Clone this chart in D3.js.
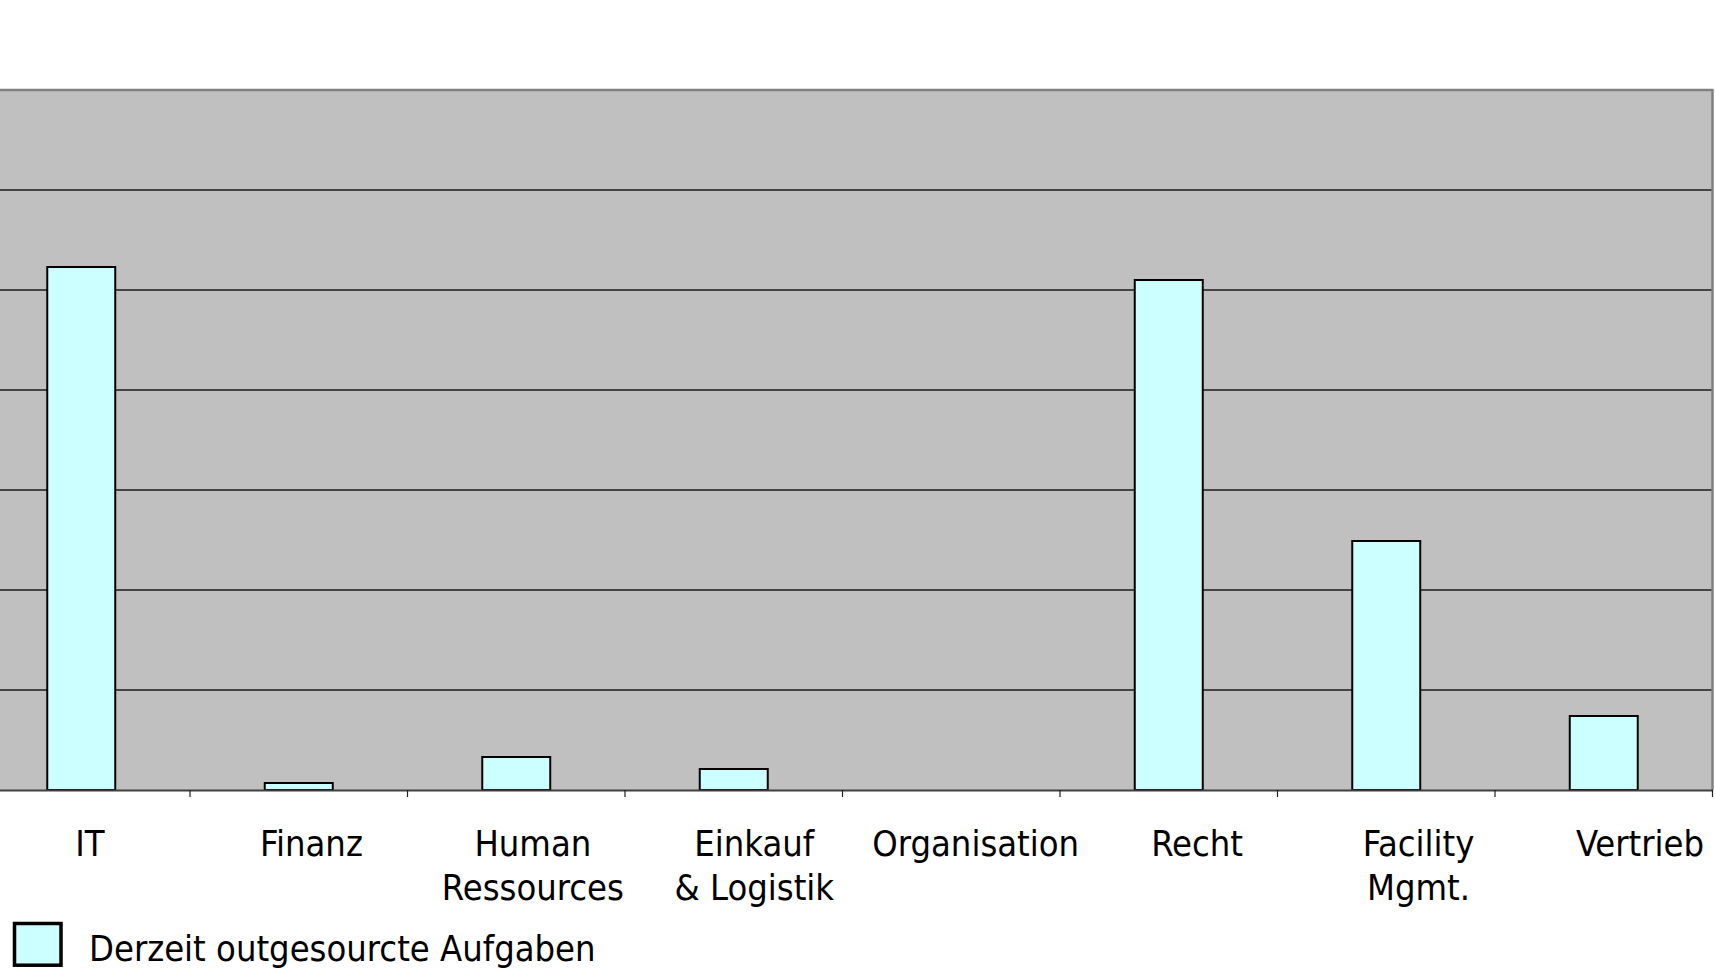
<!DOCTYPE html>
<html>
<head>
<meta charset="utf-8">
<script src="https://cdn.jsdelivr.net/npm/d3@7"></script>
<style>
  html, body { margin: 0; padding: 0; background: #ffffff; overflow: hidden; }
  svg { display: block; }
  text { font-family: "DejaVu Sans Condensed", "DejaVu Sans", sans-serif; fill: #000; }
</style>
</head>
<body>
<svg id="chart" width="1715" height="968"></svg>
<script>
// ---- data ----
const categories = ["IT", "Finanz", "Human Ressources", "Einkauf & Logistik", "Organisation", "Recht", "Facility Mgmt.", "Vertrieb"];
const labelLines = [["IT"], ["Finanz"], ["Human", "Ressources"], ["Einkauf", "& Logistik"], ["Organisation"], ["Recht"], ["Facility", "Mgmt."], ["Vertrieb"]];
const values = [52.3, 0.7, 3.3, 2.1, 0, 51.0, 24.9, 7.4];
const yTicks = [0, 10, 20, 30, 40, 50, 60, 70];
const seriesName = "Derzeit outgesourcte Aufgaben";

// ---- layout ----
const plot = { left: -27.5, right: 1712.5, top: 90, bottom: 790 };
const svg = d3.select("#chart");

const x = d3.scaleBand().domain(categories).range([plot.left, plot.right])
  .paddingInner(0.6874).paddingOuter(0.3437);
const y = d3.scaleLinear().domain([0, 70]).range([plot.bottom, plot.top]);
const labelX = d3.scalePoint().domain(categories).range([90, 1640]);

// background
svg.append("rect")
  .attr("x", plot.left).attr("y", plot.top)
  .attr("width", plot.right - plot.left).attr("height", plot.bottom - plot.top)
  .attr("fill", "#c0c0c0");

// gridlines
svg.append("g").selectAll("line")
  .data(yTicks.filter(d => d > 0 && d < 70))
  .join("line")
  .attr("x1", plot.left).attr("x2", plot.right)
  .attr("y1", d => y(d)).attr("y2", d => y(d))
  .attr("stroke", "#1a1a1a").attr("stroke-width", 1.5);

// plot border top/right
svg.append("line")
  .attr("x1", plot.left).attr("x2", plot.right + 1)
  .attr("y1", y(70)).attr("y2", y(70))
  .attr("stroke", "#808080").attr("stroke-width", 2.5);
svg.append("line")
  .attr("x1", plot.right).attr("x2", plot.right)
  .attr("y1", y(70)).attr("y2", y(0))
  .attr("stroke", "#808080").attr("stroke-width", 2.5);

// bars
svg.append("g").selectAll("rect")
  .data(values.map((v, i) => ({ c: categories[i], v })))
  .join("rect")
  .filter(d => d.v > 0)
  .attr("x", d => x(d.c))
  .attr("y", d => y(d.v))
  .attr("width", x.bandwidth())
  .attr("height", d => y(0) - y(d.v))
  .attr("fill", "#ccffff")
  .attr("stroke", "#000").attr("stroke-width", 2);

// x axis baseline and ticks
const xAxis = d3.axisBottom(x).tickSize(0).tickFormat("");
const gx = svg.append("g").attr("transform", `translate(0,${plot.bottom})`).call(xAxis);
gx.select(".domain").attr("stroke", "#404040").attr("stroke-width", 2);
const step = x.step();
const boundaries = d3.range(categories.length + 1).map(i => plot.left + i * step);
svg.append("g").selectAll("line")
  .data(boundaries)
  .join("line")
  .attr("x1", d => d).attr("x2", d => d)
  .attr("y1", plot.bottom).attr("y2", plot.bottom + 7)
  .attr("stroke", "#202020").attr("stroke-width", 1.2);

// category labels
const lab = svg.append("g").selectAll("text")
  .data(categories)
  .join("text")
  .attr("x", d => labelX(d))
  .attr("y", 856)
  .attr("text-anchor", "middle")
  .attr("font-size", 36);
lab.each(function(d, i) {
  const t = d3.select(this);
  labelLines[i].forEach((line, k) => {
    t.append("tspan").attr("x", labelX(d)).attr("dy", k === 0 ? 0 : 44).text(line);
  });
});

// legend
svg.append("rect")
  .attr("x", 14.5).attr("y", 923.5).attr("width", 46.5).attr("height", 41.7)
  .attr("fill", "#ccffff").attr("stroke", "#000").attr("stroke-width", 3.5);
svg.append("text")
  .attr("x", 89).attr("y", 961)
  .attr("font-size", 36)
  .text(seriesName);
</script>
</body>
</html>
